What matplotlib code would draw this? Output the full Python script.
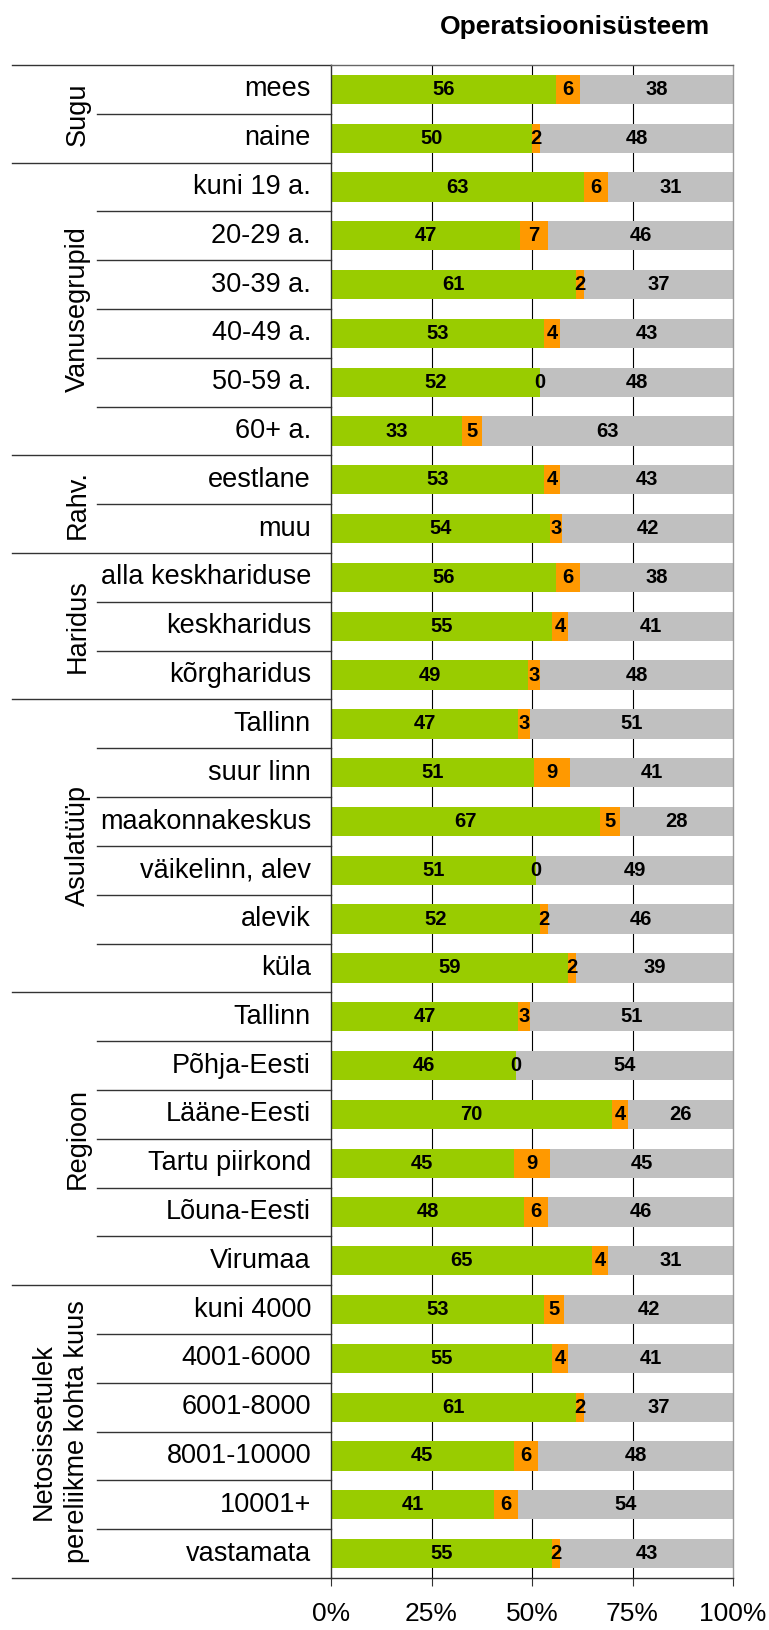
import matplotlib
matplotlib.use("Agg")
import matplotlib.pyplot as plt
from matplotlib.lines import Line2D
import numpy as np

plt.rcParams['font.family'] = ['Liberation Sans', 'DejaVu Sans']

title = "Operatsioonisüsteem"
groups = ["Sugu", "Vanusegrupid", "Rahv.", "Haridus", "Asulatüüp", "Regioon",
          "Netosissetulek\npereliikme kohta kuus"]
group_sizes = [2, 6, 2, 3, 6, 6, 6]
categories = ["mees", "naine",
              "kuni 19 a.", "20-29 a.", "30-39 a.", "40-49 a.", "50-59 a.", "60+ a.",
              "eestlane", "muu",
              "alla keskhariduse", "keskharidus", "kõrgharidus",
              "Tallinn", "suur linn", "maakonnakeskus", "väikelinn, alev", "alevik", "küla",
              "Tallinn", "Põhja-Eesti", "Lääne-Eesti", "Tartu piirkond", "Lõuna-Eesti", "Virumaa",
              "kuni 4000", "4001-6000", "6001-8000", "8001-10000", "10001+", "vastamata"]
green = [56, 50, 63, 47, 61, 53, 52, 33, 53, 54, 56, 55, 49, 47, 51, 67, 51, 52, 59,
         47, 46, 70, 45, 48, 65, 53, 55, 61, 45, 41, 55]
orange = [6, 2, 6, 7, 2, 4, 0, 5, 4, 3, 6, 4, 3, 3, 9, 5, 0, 2, 2,
          3, 0, 4, 9, 6, 4, 5, 4, 2, 6, 6, 2]
gray = [38, 48, 31, 46, 37, 43, 48, 63, 43, 42, 38, 41, 48, 51, 41, 28, 49, 46, 39,
        51, 54, 26, 45, 46, 31, 42, 41, 37, 48, 54, 43]
xticklabels = ["0%", "25%", "50%", "75%", "100%"]
colors = ["#99CC00", "#FF9900", "#C0C0C0"]

W, H = 769, 1630
fig = plt.figure(figsize=(W / 100, H / 100), dpi=100)
L, R, T, B = 331, 733, 65, 1578
ax = fig.add_axes([L / W, 1 - B / H, (R - L) / W, (B - T) / H])

data = np.array([green, orange, gray], dtype=float)
tot = data.sum(axis=0)
frac = data / tot * 100
n = len(categories)
y = np.arange(n)
left = np.zeros(n)
for k in range(3):
    ax.barh(y, frac[k], left=left, height=0.6, color=colors[k], zorder=2)
    for i in range(n):
        ax.text(left[i] + frac[k][i] / 2, y[i], str(int(data[k][i])),
                ha='center', va='center', fontsize=14.5, fontweight='bold',
                color='black', zorder=3)
    left = left + frac[k]

ax.set_xlim(0, 100)
ax.set_ylim(n - 0.5, -0.5)
ax.set_xticks([0, 25, 50, 75, 100])
ax.set_xticklabels(xticklabels, fontsize=19)
ax.tick_params(axis='x', direction='out', length=6, pad=11, width=0.8, color='#333333')
ax.set_yticks([])
for xv in [25, 50, 75]:
    ax.axvline(xv, color='black', lw=0.8, zorder=1)
ax.spines['left'].set_color('#333333')
ax.spines['bottom'].set_color('#333333')
ax.spines['top'].set_color('#666666')
ax.spines['right'].set_color('#999999')
for s in ax.spines.values():
    s.set_linewidth(1.0)

tr = ax.get_yaxis_transform()
x_lab = (311 - L) / (R - L)
x_inner = (97 - L) / (R - L)
x_outer = (12 - L) / (R - L)
x_group = (78 - L) / (R - L)
x_group2 = (60 - L) / (R - L)

for i, c in enumerate(categories):
    ax.text(x_lab, i, c, transform=tr, ha='right', va='center', fontsize=19.5)

start = 0
for g, sz in zip(groups, group_sizes):
    ax.add_line(Line2D([x_outer, 0], [start - 0.5, start - 0.5], transform=tr,
                       color='#333333', lw=1.0, clip_on=False))
    for j in range(1, sz):
        yy = start + j - 0.5
        ax.add_line(Line2D([x_inner, 0], [yy, yy], transform=tr,
                           color='#333333', lw=1.0, clip_on=False))
    ax.text(x_group if '\n' not in g else x_group2, start + (sz - 1) / 2, g,
            transform=tr, ha='center', va='center', rotation=90, fontsize=19.5,
            linespacing=1.35, multialignment='center')
    start += sz
ax.add_line(Line2D([x_outer, 0], [n - 0.5, n - 0.5], transform=tr,
                   color='#333333', lw=1.0, clip_on=False))

fig.text(575 / W, 1 - 27 / H, title, ha='center', va='center',
         fontsize=19, fontweight='bold')

fig.savefig("out.png", dpi=100)
